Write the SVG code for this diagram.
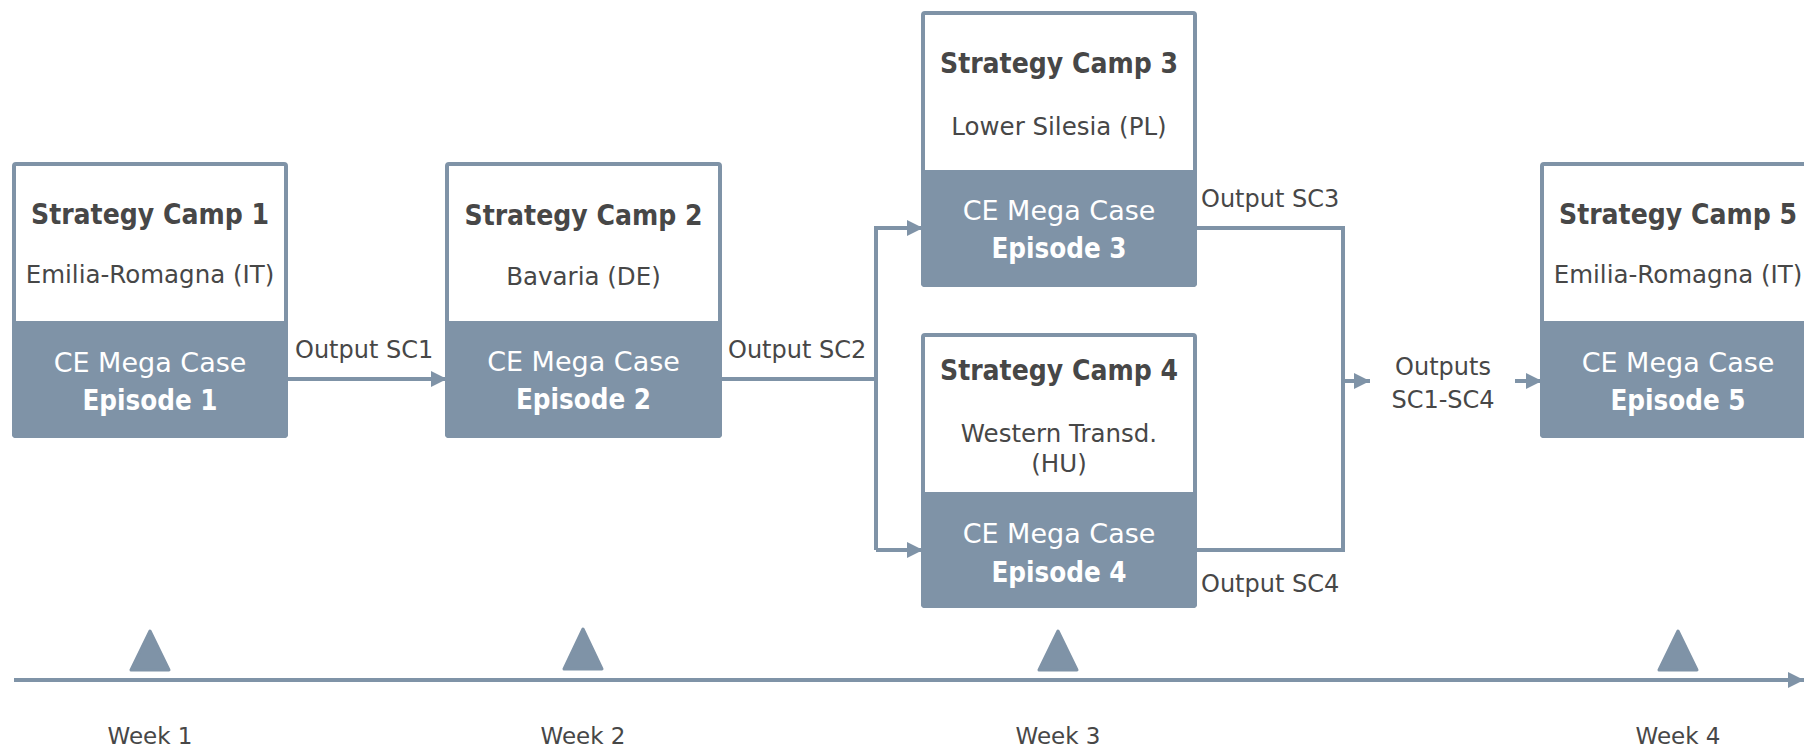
<svg xmlns="http://www.w3.org/2000/svg" width="1804" height="748" viewBox="0 0 1804 748">
<style>
.box{fill:#ffffff;stroke:#7f93a7;stroke-width:4}
.dark{fill:#7f93a7;stroke:#7f93a7;stroke-width:4}
.t{font-family:"DejaVu Sans",sans-serif;fill:#474747;text-anchor:middle}
.title{font-family:"DejaVu Sans Condensed","DejaVu Sans",sans-serif;font-stretch:condensed;font-size:28px;font-weight:bold}
.sub{font-size:24.5px}
.w{fill:#ffffff;font-size:27px}
.wb{font-family:"DejaVu Sans Condensed","DejaVu Sans",sans-serif;font-stretch:condensed;fill:#ffffff;font-size:27.5px;font-weight:bold}
.lab{font-family:"DejaVu Sans",sans-serif;fill:#474747;font-size:24px}
.conn{fill:none;stroke:#7f93a7;stroke-width:4}
.tri{fill:#7f93a7;stroke:#7f93a7;stroke-width:3;stroke-linejoin:round}
.week{font-family:"DejaVu Sans",sans-serif;fill:#474747;font-size:23px;text-anchor:middle}
</style>
<defs>
<marker id="ah" markerWidth="4" markerHeight="4" refX="4" refY="2" orient="auto" markerUnits="strokeWidth">
<path d="M0,0 L4,2 L0,4 Z" fill="#7f93a7"/>
</marker>
</defs>

<g id="sc1">
<rect class="box" x="14" y="164" width="272" height="272" rx="2"/>
<rect class="dark" x="14" y="323" width="272" height="113" rx="2"/>
<text class="t title" x="150" y="224">Strategy Camp 1</text>
<text class="t sub" x="150" y="283">Emilia-Romagna (IT)</text>
<text class="t w" x="150" y="372">CE Mega Case</text>
<text class="t wb" x="150" y="410">Episode 1</text>
</g>

<g id="sc2">
<rect class="box" x="447" y="164" width="273" height="272" rx="2"/>
<rect class="dark" x="447" y="323" width="273" height="113" rx="2"/>
<text class="t title" x="583.5" y="225">Strategy Camp 2</text>
<text class="t sub" x="583.5" y="285">Bavaria (DE)</text>
<text class="t w" x="583.5" y="371">CE Mega Case</text>
<text class="t wb" x="583.5" y="409">Episode 2</text>
</g>

<g id="sc3">
<rect class="box" x="923" y="13" width="272" height="272" rx="2"/>
<rect class="dark" x="923" y="172" width="272" height="113" rx="2"/>
<text class="t title" x="1059" y="73">Strategy Camp 3</text>
<text class="t sub" x="1059" y="135">Lower Silesia (PL)</text>
<text class="t w" x="1059" y="220">CE Mega Case</text>
<text class="t wb" x="1059" y="258">Episode 3</text>
</g>

<g id="sc4">
<rect class="box" x="923" y="335" width="272" height="271" rx="2"/>
<rect class="dark" x="923" y="494" width="272" height="112" rx="2"/>
<text class="t title" x="1059" y="380">Strategy Camp 4</text>
<text class="t sub" x="1059" y="442">Western Transd.</text>
<text class="t sub" x="1059" y="472">(HU)</text>
<text class="t w" x="1059" y="543">CE Mega Case</text>
<text class="t wb" x="1059" y="582">Episode 4</text>
</g>

<g id="sc5">
<rect class="box" x="1542" y="164" width="272" height="272" rx="2"/>
<rect class="dark" x="1542" y="323" width="272" height="113" rx="2"/>
<text class="t title" x="1678" y="224">Strategy Camp 5</text>
<text class="t sub" x="1678" y="283">Emilia-Romagna (IT)</text>
<text class="t w" x="1678" y="372">CE Mega Case</text>
<text class="t wb" x="1678" y="410">Episode 5</text>
</g>

<g id="connectors">
<line class="conn" x1="288" y1="379" x2="447" y2="379" marker-end="url(#ah)"/>
<polyline class="conn" points="722,379 876,379"/>
<polyline class="conn" points="876,550 876,228 923,228" marker-end="url(#ah)"/>
<line class="conn" x1="876" y1="550" x2="923" y2="550" marker-end="url(#ah)"/>
<polyline class="conn" points="1197,228 1343,228 1343,550 1197,550"/>
<line class="conn" x1="1343" y1="381" x2="1370" y2="381" marker-end="url(#ah)"/>
<line class="conn" x1="1515" y1="381" x2="1542" y2="381" marker-end="url(#ah)"/>
<text class="lab" x="295" y="358">Output SC1</text>
<text class="lab" x="728" y="358">Output SC2</text>
<text class="lab" x="1201" y="207">Output SC3</text>
<text class="lab" x="1201" y="592">Output SC4</text>
<text class="lab" x="1443" y="375" text-anchor="middle">Outputs</text>
<text class="lab" x="1443" y="408" text-anchor="middle">SC1-SC4</text>
</g>

<g id="timeline">
<line class="conn" x1="14" y1="680" x2="1804" y2="680" marker-end="url(#ah)"/>
<polygon class="tri" points="150,631 169,670 131,670"/>
<polygon class="tri" points="583,629 602,669 564,669"/>
<polygon class="tri" points="1058,631 1077,670 1039,670"/>
<polygon class="tri" points="1678,631 1697,670 1659,670"/>
<text class="week" x="150" y="744">Week 1</text>
<text class="week" x="583" y="744">Week 2</text>
<text class="week" x="1058" y="744">Week 3</text>
<text class="week" x="1678" y="744">Week 4</text>
</g>
</svg>
